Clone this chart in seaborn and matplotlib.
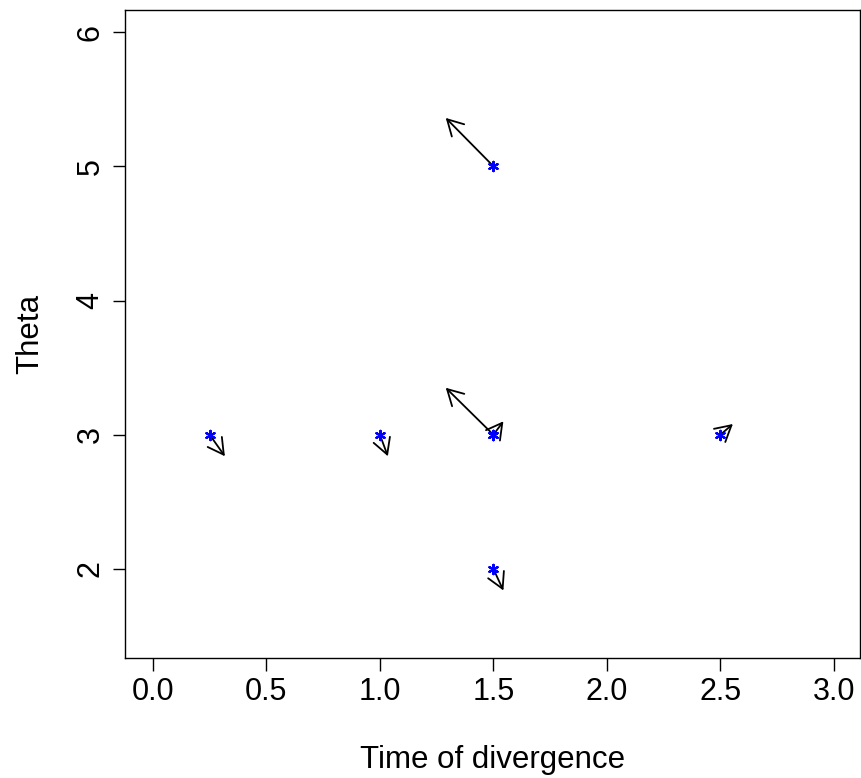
import numpy as np
import pandas as pd
import matplotlib
matplotlib.use("Agg")
import matplotlib.pyplot as plt
import seaborn as sns

# start points (blue asterisks)
x_start = [0.25, 1.0, 1.5, 1.5, 1.5, 1.5, 2.5]
y_start = [3.0, 3.0, 3.0, 3.0, 5.0, 2.0, 3.0]
# arrow tips
x_end = [0.317, 1.035, 1.29, 1.544, 1.29, 1.544, 2.555]
y_end = [2.84, 2.84, 3.35, 3.10, 5.36, 1.84, 3.08]

x_ticks = [0.0, 0.5, 1.0, 1.5, 2.0, 2.5, 3.0]
x_tick_labels = ["0.0", "0.5", "1.0", "1.5", "2.0", "2.5", "3.0"]
y_ticks = [2, 3, 4, 5, 6]
y_tick_labels = ["2", "3", "4", "5", "6"]

sns.set_theme(style="white")
plt.rcParams["font.family"] = ["Liberation Sans", "DejaVu Sans"]

fig = plt.figure(figsize=(8.62, 7.78), dpi=100)
ax = fig.add_axes([125/862, 1-658/778, (860-125)/862, (658-10)/778])

df = pd.DataFrame({"x": x_start, "y": y_start})

for xs, ys, xe, ye in zip(x_start, y_start, x_end, y_end):
    ax.annotate("", xy=(xe, ye), xytext=(xs, ys),
                arrowprops=dict(arrowstyle="->,head_length=0.9,head_width=0.5",
                                color="black", lw=1.3, shrinkA=0, shrinkB=0,
                                mutation_scale=12.5))

sns.scatterplot(data=df, x="x", y="y", ax=ax, marker=(6, 2, 0), s=45,
                color="blue", edgecolor="blue", linewidth=1.6, zorder=5)

ax.set_xlim(-0.123, 3.115)
ax.set_ylim(1.337, 6.164)
ax.set_xticks(x_ticks)
ax.set_xticklabels(x_tick_labels)
ax.set_yticks(y_ticks)
ax.set_yticklabels(y_tick_labels, rotation=90, va="center")

for s in ax.spines.values():
    s.set_visible(True)
    s.set_color("black")
    s.set_linewidth(1.0)

ax.tick_params(axis="both", which="major", direction="out", length=9, width=1.0,
               color="black", labelsize=22, labelcolor="black", pad=5,
               bottom=True, left=True)
ax.set_xlabel("Time of divergence", fontsize=22.5, labelpad=27, color="black")
ax.set_ylabel("Theta", fontsize=22.5, labelpad=22, color="black")

fig.savefig("out.png", dpi=100)
